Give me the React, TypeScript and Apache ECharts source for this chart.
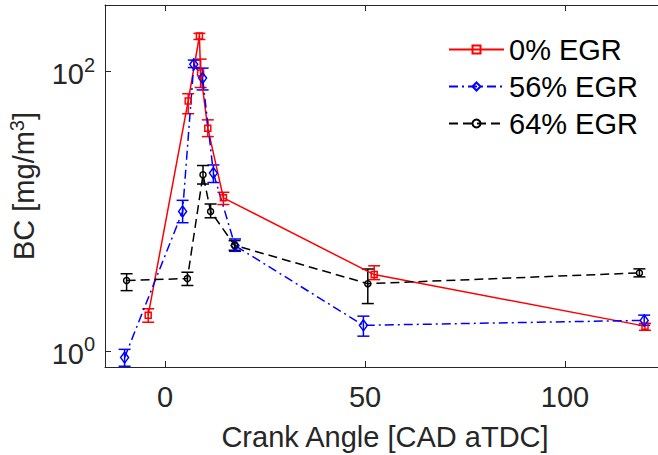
import React, { useEffect, useRef } from 'react';
import * as echarts from 'echarts';

// Crank angle [CAD aTDC] and BC [mg/m^3] with error-bar bounds
const redAngle = [-4.2, 5.8, 8.6, 8.9, 10.7, 14.6, 52.3, 120.0];
const redBC = [1.81, 61.8, 180, 98, 39.4, 12.5, 3.53, 1.51];
const redLow = [1.61, 50, 170, 77, 34.3, 11.2, 3.25, 1.41];
const redHigh = [2.01, 69.5, 188, 123, 45.2, 13.7, 4.08, 1.58];

const blueAngle = [-10.1, 4.4, 7.2, 9.4, 12.1, 17.5, 49.6, 119.8];
const blueBC = [0.9, 10.0, 113, 90, 18.8, 5.69, 1.53, 1.66];
const blueLow = [0.78, 8.3, 107, 74, 16.1, 5.18, 1.28, 1.53];
const blueHigh = [1.03, 12.0, 121, 106, 21.5, 6.35, 1.78, 1.81];

const blackAngle = [-9.6, 5.6, 9.5, 11.4, 17.4, 50.7, 118.6];
const blackBC = [3.2, 3.31, 18.3, 10.0, 5.72, 3.04, 3.63];
const blackLow = [2.71, 2.95, 15.7, 9.0, 5.27, 2.19, 3.4];
const blackHigh = [3.58, 3.67, 21.3, 11.3, 6.18, 3.87, 3.88];

const seriesNames = ['0% EGR', '56% EGR', '64% EGR'];
const xTickLabels = [0, 50, 100];
const yTickExponents = [0, 2];

const FONT = 'Liberation Sans, Arial, Helvetica, sans-serif';
const AXIS = '#262626';

function pts(a: number[], v: number[]) {
  return a.map((x, i) => [x, v[i]]);
}
function bars(a: number[], lo: number[], hi: number[]) {
  return a.map((x, i) => [x, lo[i], hi[i]]);
}

function errorSeries(name: string, color: string, data: number[][]) {
  return {
    name,
    type: 'custom',
    silent: true,
    encode: { x: 0, y: [1, 2] },
    data,
    renderItem: (params: any, api: any) => {
      const x = api.value(0);
      const lo = api.coord([x, api.value(1)]);
      const hi = api.coord([x, api.value(2)]);
      const hw = 6;
      const st = { stroke: color, lineWidth: 1.5 };
      return {
        type: 'group',
        children: [
          { type: 'line', shape: { x1: lo[0], y1: lo[1], x2: hi[0], y2: hi[1] }, style: st },
          { type: 'line', shape: { x1: lo[0] - hw, y1: lo[1], x2: lo[0] + hw, y2: lo[1] }, style: st },
          { type: 'line', shape: { x1: hi[0] - hw, y1: hi[1], x2: hi[0] + hw, y2: hi[1] }, style: st },
        ],
      };
    },
  };
}

function lineSeries(name: string, color: string, data: number[][], symbol: string, size: any, dash: any) {
  return {
    name,
    type: 'line',
    data,
    symbol,
    symbolSize: size,
    silent: true,
    lineStyle: { color, width: 1.5, type: dash },
    itemStyle: { color: 'rgba(0,0,0,0)', borderColor: color, borderWidth: 1.5 },
  };
}

export default function App() {
  const ref = useRef<HTMLDivElement>(null);
  useEffect(() => {
    if (!ref.current) return;
    const chart = echarts.init(ref.current, undefined, { renderer: 'svg' });
    const option: any = {
      animation: false,
      backgroundColor: '#ffffff',
      textStyle: { fontFamily: FONT },
      grid: { left: 105, top: 5, right: -7, bottom: 88, outerBoundsMode: 'none', containLabel: false },
      legend: {
        orient: 'vertical',
        left: 443,
        top: 30,
        padding: 5,
        itemWidth: 55,
        itemHeight: 10,
        itemGap: 8,
        data: seriesNames,
        textStyle: { fontSize: 29, color: '#000', fontFamily: FONT, lineHeight: 29 },
      },
      xAxis: [
        {
          type: 'value',
          min: -15,
          max: 125,
          splitNumber: 3,
          position: 'bottom',
          axisLine: { show: true, onZero: false, lineStyle: { color: AXIS, width: 1 } },
          axisTick: { show: true, inside: true, length: 6, lineStyle: { color: AXIS } },
          splitLine: { show: false },
          axisLabel: {
            fontSize: 29,
            color: AXIS,
            margin: 15,
            fontFamily: FONT,
            showMinLabel: false,
            showMaxLabel: false,
            formatter: (v: number) => (xTickLabels.indexOf(Math.round(v)) >= 0 && Math.abs(v - Math.round(v)) < 1e-6 ? String(Math.round(v)) : ''),
          },
          name: 'Crank Angle [CAD aTDC]',
          nameLocation: 'middle',
          nameGap: 55,
          nameTextStyle: { fontSize: 29, color: AXIS, fontFamily: FONT },
        },
        {
          type: 'value',
          min: -15,
          max: 125,
          splitNumber: 3,
          position: 'top',
          axisLine: { show: true, onZero: false, lineStyle: { color: AXIS, width: 1 } },
          axisTick: { show: true, inside: true, length: 6, lineStyle: { color: AXIS } },
          splitLine: { show: false },
          axisLabel: { show: false },
        },
      ],
      yAxis: [
        {
          type: 'log',
          logBase: 100,
          min: 0.77,
          max: 300,
          position: 'left',
          axisLine: { show: true, onZero: false, lineStyle: { color: AXIS, width: 1 } },
          axisTick: { show: true, inside: true, length: 6, lineStyle: { color: AXIS } },
          minorTick: { show: false },
          splitLine: { show: false },
          axisLabel: {
            margin: 10,
            color: AXIS,
            fontFamily: FONT,
            formatter: (v: number) => {
              const e = Math.log10(v);
              const r = Math.round(e);
              if (Math.abs(e - r) < 1e-6 && yTickExponents.indexOf(r) >= 0) return '{b|10}{s|' + r + '}';
              return '';
            },
            rich: {
              b: { fontSize: 29, color: AXIS, fontFamily: FONT, lineHeight: 34, verticalAlign: 'bottom' },
              s: { fontSize: 20, color: AXIS, fontFamily: FONT, lineHeight: 20, verticalAlign: 'top' },
            },
          },
          name: 'BC [mg/m{s|3}]',
          nameLocation: 'middle',
          nameGap: 60,
          nameRotate: 90,
          nameTextStyle: {
            fontSize: 29,
            color: AXIS,
            fontFamily: FONT,
            lineHeight: 34,
            rich: {
              s: { fontSize: 20, color: AXIS, fontFamily: FONT, lineHeight: 20, verticalAlign: 'top' },
            },
          },
        },
      ],
      series: [
        lineSeries(seriesNames[0], '#ff0000', pts(redAngle, redBC), 'rect', 6, 'solid'),
        errorSeries('err0', '#ff0000', bars(redAngle, redLow, redHigh)),
        lineSeries(seriesNames[1], '#0000ff', pts(blueAngle, blueBC), 'diamond', [8, 11], [9, 4, 2, 4]),
        errorSeries('err1', '#0000ff', bars(blueAngle, blueLow, blueHigh)),
        lineSeries(seriesNames[2], '#000000', pts(blackAngle, blackBC), 'circle', 6, [9, 5]),
        errorSeries('err2', '#000000', bars(blackAngle, blackLow, blackHigh)),
      ],
    };
    chart.setOption(option);
    return () => chart.dispose();
  }, []);
  return <div ref={ref} style={{ position: 'fixed', left: 0, top: 0, width: 658, height: 455, background: '#fff' }} />;
}
